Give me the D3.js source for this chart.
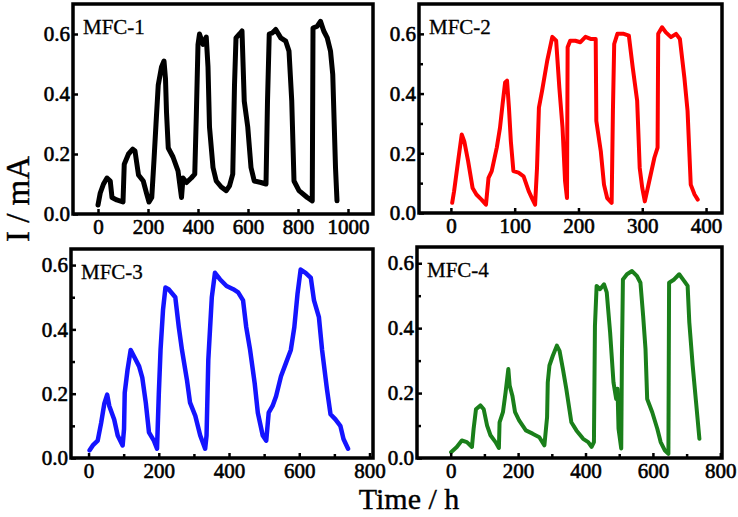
<!DOCTYPE html>
<html><head><meta charset="utf-8">
<script src="https://cdn.jsdelivr.net/npm/d3@7"></script>
<style>
body{margin:0;background:#fff;}
svg{display:block;}
text{font-family:"Liberation Serif","Times New Roman",serif;}
</style></head>
<body>
<svg id="chart" width="738" height="517"></svg>
<script>
// ---------- DATA ----------
const mfc1T = [0,9,22,36,49,56,75,100,105,122,139,148,162,181,195,204,215,224,232,241,254,264,270,274,281,300,320,334,340,354,373,387,393,400,406,420,433,440,446,460,473,493,513,526,539,546,552,566,576,585,599,612,625,652,672,678,685,698,711,731,751,764,775,784,804,837,857,860,877,890,903,917,930,939,950,956];
const mfc1I = [0.03,0.07,0.10,0.12,0.11,0.055,0.047,0.04,0.166,0.20,0.216,0.21,0.13,0.11,0.066,0.04,0.055,0.18,0.30,0.43,0.49,0.51,0.45,0.34,0.22,0.19,0.144,0.055,0.12,0.105,0.12,0.133,0.32,0.565,0.60,0.565,0.59,0.49,0.29,0.155,0.11,0.09,0.078,0.094,0.133,0.43,0.587,0.60,0.61,0.376,0.29,0.155,0.11,0.105,0.10,0.376,0.60,0.604,0.615,0.587,0.576,0.543,0.376,0.11,0.078,0.055,0.044,0.62,0.626,0.642,0.61,0.587,0.543,0.465,0.155,0.044];

const mfc2T = [2,5,12,17,21,27,34,40,48,55,59,64,72,77,81,85,88,91,94,98,106,114,122,127,132,135,138,143,151,159,165,170,175,179,182,183,187,195,203,211,219,227,228,235,240,245,252,254,256,261,271,279,285,292,296,300,304,311,319,324,325,331,337,345,353,359,366,371,376,382,387];
const mfc2I = [0.034,0.073,0.185,0.263,0.24,0.174,0.084,0.062,0.045,0.028,0.118,0.14,0.22,0.286,0.364,0.437,0.443,0.353,0.24,0.14,0.135,0.123,0.073,0.05,0.028,0.15,0.353,0.41,0.51,0.59,0.577,0.42,0.286,0.106,0.05,0.555,0.577,0.577,0.572,0.59,0.583,0.583,0.308,0.207,0.095,0.05,0.034,0.342,0.566,0.60,0.60,0.594,0.488,0.376,0.151,0.084,0.039,0.107,0.185,0.219,0.60,0.622,0.605,0.589,0.60,0.583,0.454,0.342,0.095,0.062,0.045];

const mfc3T = [3,12,26,36,45,53,59,73,83,97,101,103,111,120,130,144,153,163,172,186,195,200,205,212,219,228,247,257,266,280,289,304,318,332,336,341,351,360,374,393,412,426,440,449,460,473,482,496,506,513,524,534,548,562,576,586,595,604,618,633,642,656,665,679,689,703,717,726,739];
const mfc3I = [0.024,0.039,0.054,0.11,0.17,0.197,0.162,0.12,0.07,0.039,0.09,0.203,0.274,0.336,0.315,0.285,0.25,0.172,0.08,0.054,0.029,0.198,0.336,0.46,0.53,0.525,0.50,0.407,0.336,0.244,0.172,0.131,0.07,0.029,0.07,0.305,0.50,0.576,0.556,0.535,0.525,0.515,0.49,0.407,0.336,0.233,0.141,0.07,0.054,0.141,0.162,0.192,0.254,0.295,0.336,0.407,0.51,0.586,0.576,0.56,0.49,0.438,0.336,0.213,0.136,0.12,0.10,0.059,0.029];

const mfc4T = [1,18,33,48,63,68,75,88,98,108,118,133,143,145,155,163,171,175,183,191,203,223,243,263,278,286,288,293,303,315,323,333,343,358,373,393,408,418,425,428,433,443,455,463,473,483,491,495,498,506,508,511,523,538,553,563,571,578,583,598,613,623,635,646,648,663,678,693,703,708,718,728,738];
const mfc4I = [0.018,0.034,0.054,0.049,0.034,0.09,0.15,0.162,0.15,0.10,0.07,0.049,0.031,0.11,0.141,0.203,0.274,0.223,0.192,0.141,0.116,0.085,0.075,0.064,0.039,0.126,0.233,0.285,0.315,0.346,0.33,0.274,0.213,0.11,0.085,0.059,0.049,0.034,0.049,0.407,0.53,0.52,0.535,0.51,0.387,0.233,0.182,0.213,0.09,0.029,0.305,0.55,0.566,0.576,0.56,0.54,0.438,0.336,0.182,0.141,0.09,0.049,0.024,0.013,0.54,0.55,0.566,0.545,0.53,0.418,0.285,0.172,0.059];

const panelNames = ["MFC-1","MFC-2","MFC-3","MFC-4"];
const xTicks1 = [0,200,400,600,800,1000];
const xTicks2 = [0,100,200,300,400];
const xTicks3 = [0,200,400,600,800];
const xMinor3 = [100,300,500,700];
const xTicks4 = [0,200,400,600,800];
const xMinor4 = [100,300,500,700];
const yTicks = [0.0,0.2,0.4,0.6];
const yMinor = [0.1,0.3,0.5];
const yTitle = "I / mA";
const xTitle = "Time / h";

// ---------- LAYOUT ----------
const panels = [
  {name:panelNames[0], t:mfc1T, v:mfc1I, color:"#000000", xd:[-100,1100], yd:[0,0.7], xt:xTicks1, xm:[], ym:[], L:73, R:373, T:4, B:214, pad:5, lw:5},
  {name:panelNames[1], t:mfc2T, v:mfc2I, color:"#ff0000", xd:[-50,425], yd:[0,0.7], xt:xTicks2, xm:[], ym:yMinor, L:419, R:722, T:4, B:213, pad:5, lw:4},
  {name:panelNames[2], t:mfc3T, v:mfc3I, color:"#1414ff", xd:[-50,810], yd:[0,0.65], xt:xTicks3, xm:xMinor3, ym:yMinor, L:71, R:373, T:249, B:458, pad:5, lw:4.5},
  {name:panelNames[3], t:mfc4T, v:mfc4I, color:"#1a7f1a", xd:[-100,805], yd:[0,0.65], xt:xTicks4, xm:xMinor4, ym:yMinor, L:417, R:722, T:247, B:458, pad:5, lw:4}
];

const svg = d3.select("#chart");
const FS = 21;
const heavy = sel => sel.attr("fill","#000").attr("stroke","#000").attr("stroke-width",0.6);

panels.forEach(p => {
  const x = d3.scaleLinear().domain(p.xd).range([p.L, p.R]);
  const y = d3.scaleLinear().domain(p.yd).range([p.B, p.T]);
  const g = svg.append("g");

  const pts = p.t.map((d,i)=>[d,p.v[i]]);
  g.append("path")
    .datum(pts)
    .attr("fill","none")
    .attr("stroke",p.color)
    .attr("stroke-width",p.lw)
    .attr("stroke-linejoin","round")
    .attr("stroke-linecap","round")
    .attr("d", d3.line().x(d=>x(d[0])).y(d=>y(d[1])));

  if (p.xm.length) {
    g.append("g").attr("transform",`translate(0,${p.B})`)
      .call(d3.axisBottom(x).tickValues(p.xm).tickSize(-4).tickFormat(""))
      .call(a=>a.select(".domain").remove())
      .call(a=>a.selectAll("line").attr("stroke","#000").attr("stroke-width",2.5));
  }
  if (p.ym.length) {
    g.append("g").attr("transform",`translate(${p.L},0)`)
      .call(d3.axisLeft(y).tickValues(p.ym).tickSize(-4).tickFormat(""))
      .call(a=>a.select(".domain").remove())
      .call(a=>a.selectAll("line").attr("stroke","#000").attr("stroke-width",2.5));
  }
  g.append("g").attr("transform",`translate(0,${p.B})`)
    .call(d3.axisBottom(x).tickValues(p.xt).tickSize(-5).tickPadding(p.pad).tickFormat(d3.format("d")))
    .call(a=>a.select(".domain").remove())
    .call(a=>a.selectAll("line").attr("stroke","#000").attr("stroke-width",2.5))
    .call(a=>a.selectAll("text").call(heavy).style("font-size",FS+"px").style("font-family","Liberation Serif"));
  g.append("g").attr("transform",`translate(${p.L},0)`)
    .call(d3.axisLeft(y).tickValues(yTicks).tickSize(-5).tickPadding(3).tickFormat(d3.format(".1f")))
    .call(a=>a.select(".domain").remove())
    .call(a=>a.selectAll("line").attr("stroke","#000").attr("stroke-width",2.5))
    .call(a=>a.selectAll("text").call(heavy).style("font-size",FS+"px").style("font-family","Liberation Serif"));

  g.append("rect")
    .attr("x",p.L).attr("y",p.T)
    .attr("width",p.R-p.L).attr("height",p.B-p.T)
    .attr("fill","none").attr("stroke","#000").attr("stroke-width",3.5);

  g.append("text")
    .attr("x",p.L+10).attr("y",p.T+30)
    .style("font-size","21px")
    .call(heavy).attr("stroke-width",0.3)
    .text(p.name);
});

svg.append("text")
  .attr("transform","translate(29,199) rotate(-90)")
  .attr("text-anchor","middle")
  .style("font-size","33px")
  .call(heavy).attr("stroke-width",0.4)
  .text(yTitle);
svg.append("text")
  .attr("x",409).attr("y",509)
  .attr("text-anchor","middle")
  .style("font-size","30px")
  .call(heavy).attr("stroke-width",0.4)
  .text(xTitle);
</script>
</body></html>
